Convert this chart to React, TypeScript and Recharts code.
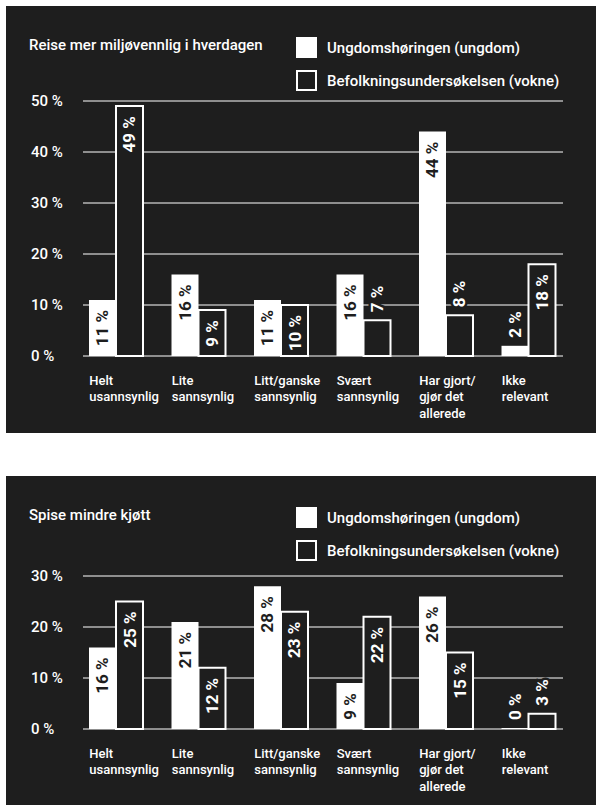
import { BarChart, Bar, XAxis, YAxis, CartesianGrid, LabelList } from "recharts";

const CATEGORIES = [
  "Helt\nusannsynlig",
  "Lite\nsannsynlig",
  "Litt/ganske\nsannsynlig",
  "Svært\nsannsynlig",
  "Har gjort/\ngjør det\nallerede",
  "Ikke\nrelevant",
];

const SERIES_NAMES = ["Ungdomshøringen (ungdom)", "Befolkningsundersøkelsen (vokne)"];

const TRAVEL_YOUTH = [11, 16, 11, 16, 44, 2];
const TRAVEL_ADULTS = [49, 9, 10, 7, 8, 18];
const TRAVEL_TICKS = [0, 10, 20, 30, 40, 50];

const MEAT_YOUTH = [16, 21, 28, 9, 26, 0];
const MEAT_ADULTS = [25, 12, 23, 22, 15, 3];
const MEAT_TICKS = [0, 10, 20, 30];

const BG = "#1e1e1e";
const FONT = "Roboto, sans-serif";

const buildRows = (youth: number[], adults: number[]) =>
  CATEGORIES.map((name, i) => ({ name, youth: youth[i], adults: adults[i] }));

function BarLabel(props: any) {
  const { x, y, width, height, value, solid } = props;
  const cx = x + width / 2;
  const inside = height >= 42;
  const ty = inside ? y + 10 : y - 8;
  const color = solid && inside ? BG : "#fff";
  const halo = !(solid && inside);
  return (
    <text
      x={cx}
      y={ty}
      transform={`rotate(-90, ${cx}, ${ty})`}
      textAnchor={inside ? "end" : "start"}
      dominantBaseline="central"
      fill={color}
      stroke={halo ? BG : "none"}
      strokeWidth={halo ? 5 : 0}
      paintOrder="stroke"
      fontFamily={FONT}
      fontWeight={700}
      fontSize={17}
    >
      {`${value} %`}
    </text>
  );
}

function CategoryTick(props: any) {
  const { x, y, payload } = props;
  const lines = String(payload.value).split("\n");
  return (
    <g>
      {lines.map((line, i) => (
        <text
          key={i}
          x={x - 27}
          y={y + 24 + i * 16.5}
          dominantBaseline="central"
          fill="#fff"
          fontFamily={FONT}
          fontWeight={500}
          fontSize={13}
        >
          {line}
        </text>
      ))}
    </g>
  );
}

function PercentTick(props: any) {
  const { y, payload } = props;
  return (
    <text
      x={25}
      y={y}
      dominantBaseline="central"
      fill="#fff"
      fontFamily={FONT}
      fontWeight={500}
      fontSize={15}
    >
      {`${payload.value} %`}
    </text>
  );
}

function GridLine(props: any) {
  return (
    <line
      key={props.key ?? `${props.y1}`}
      x1={77}
      x2={557}
      y1={props.y1}
      y2={props.y2}
      stroke="#fff"
      strokeWidth={1}
    />
  );
}

function LegendBox() {
  const item = (label: string, solid: boolean, top: number) => (
    <div style={{ position: "absolute", left: 290, top, display: "flex", alignItems: "center" }}>
      <div
        style={{
          width: solid ? 21 : 17,
          height: solid ? 21 : 17,
          background: solid ? "#fff" : BG,
          border: solid ? "none" : "2px solid #fff",
        }}
      />
      <span style={{ marginLeft: 10, color: "#fff", fontFamily: FONT, fontWeight: 500, fontSize: 15 }}>
        {label}
      </span>
    </div>
  );
  return (
    <>
      {item(SERIES_NAMES[0], true, 31)}
      {item(SERIES_NAMES[1], false, 64)}
    </>
  );
}

function Panel({
  title,
  youth,
  adults,
  ticks,
  top,
  height,
  plotTop,
  axisHeight,
}: {
  title: string;
  youth: number[];
  adults: number[];
  ticks: number[];
  top: number;
  height: number;
  plotTop: number;
  axisHeight: number;
}) {
  const data = buildRows(youth, adults);
  return (
    <div style={{ position: "absolute", left: 6, top, width: 590, height, background: BG }}>
      <div
        style={{
          position: "absolute",
          left: 23,
          top: 29,
          color: "#fff",
          fontFamily: FONT,
          fontWeight: 500,
          fontSize: 15,
          lineHeight: "20px",
        }}
      >
        {title}
      </div>
      <LegendBox />
      <div style={{ position: "absolute", left: 0, top: 0 }}>
        <BarChart
          width={590}
          height={height}
          data={data}
          barSize={27}
          barGap={0}
          margin={{ top: plotTop, right: 26, left: 9, bottom: 0 }}
        >
          <CartesianGrid vertical={false} horizontal={(p: any) => <GridLine {...p} />} />
          <XAxis
            dataKey="name"
            axisLine={false}
            tickLine={false}
            tickSize={0}
            tickMargin={0}
            height={axisHeight}
            interval={0}
            tick={<CategoryTick />}
          />
          <YAxis
            width={60}
            domain={[0, ticks[ticks.length - 1]]}
            ticks={ticks}
            axisLine={false}
            tickLine={false}
            tick={<PercentTick />}
          />
          <Bar dataKey="youth" fill="#fff" minPointSize={1} isAnimationActive={false}>
            <LabelList dataKey="youth" content={(p: any) => <BarLabel {...p} solid />} />
          </Bar>
          <Bar dataKey="adults" fill={BG} stroke="#fff" strokeWidth={2} isAnimationActive={false}>
            <LabelList dataKey="adults" content={(p: any) => <BarLabel {...p} solid={false} />} />
          </Bar>
        </BarChart>
      </div>
    </div>
  );
}

export default function App() {
  return (
    <div style={{ position: "absolute", left: 0, top: 0, width: 602, height: 812, background: "#fff" }}>
      <Panel
        title="Reise mer miljøvennlig i hverdagen"
        youth={TRAVEL_YOUTH}
        adults={TRAVEL_ADULTS}
        ticks={TRAVEL_TICKS}
        top={6}
        height={427}
        plotTop={95}
        axisHeight={77}
      />
      <Panel
        title="Spise mindre kjøtt"
        youth={MEAT_YOUTH}
        adults={MEAT_ADULTS}
        ticks={MEAT_TICKS}
        top={476}
        height={329}
        plotTop={100}
        axisHeight={76}
      />
    </div>
  );
}
